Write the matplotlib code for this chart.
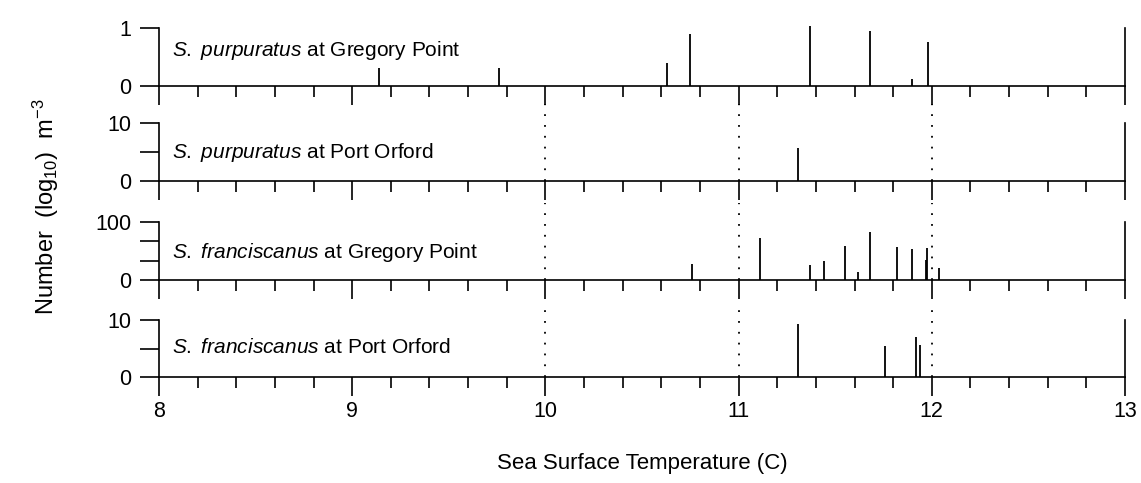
import matplotlib
matplotlib.use('Agg')
import matplotlib.pyplot as plt
import numpy as np

plt.rcParams['font.family'] = 'Liberation Sans'
plt.rcParams['mathtext.fontset'] = 'custom'
plt.rcParams['mathtext.rm'] = 'Liberation Sans'
plt.rcParams['mathtext.it'] = 'Liberation Sans:italic'

# spikes: sea surface temperature (C) and number (log10 m^-3)
gp_purp_temp = [9.14, 9.76, 10.63, 10.75, 11.37, 11.68, 11.90, 11.98]
gp_purp_num = [0.31, 0.31, 0.40, 0.89, 1.03, 0.94, 0.12, 0.75]
po_purp_temp = [11.31]
po_purp_num = [5.7]
gp_fran_temp = [10.76, 11.11, 11.37, 11.44, 11.55, 11.62, 11.68, 11.82, 11.90, 11.968, 11.975, 12.035]
gp_fran_num = [27, 72, 26, 33, 58, 14, 83, 57, 53, 34, 56, 21]
po_fran_temp = [11.31, 11.76, 11.92, 11.94]
po_fran_num = [9.3, 5.5, 7.1, 5.7]

species = ['S.\\ purpuratus', 'S.\\ purpuratus', 'S.\\ franciscanus', 'S.\\ franciscanus']
sites = ['Gregory Point', 'Port Orford', 'Gregory Point', 'Port Orford']
y_max = [1, 10, 100, 10]
y_ticks = [[0, 1], [0, 5, 10], [0, 100 / 3, 200 / 3, 100], [0, 5, 10]]
x_labels = ['8', '9', '10', '11', '12', '13']
guide_temps = [10, 11, 12]

temps = [gp_purp_temp, po_purp_temp, gp_fran_temp, po_fran_temp]
nums = [gp_purp_num, po_purp_num, gp_fran_num, po_fran_num]

W, H = 1141, 483
fig = plt.figure(figsize=(W / 100, H / 100), dpi=100)

# panel pixel extents (top, bottom)
panel_px = [(28, 86), (123, 181), (222, 280), (320, 377)]
text_y = [0.62, 0.5, 0.48, 0.52]
left_px, right_px = 159, 1125

axes = []
for i, (top, bot) in enumerate(panel_px):
    ax = fig.add_axes([left_px / W, 1 - bot / H, (right_px - left_px) / W, (bot - top) / H])
    axes.append(ax)
    ax.vlines(temps[i], 0, nums[i], color='k', lw=1.3, clip_on=False)
    ax.set_xlim(8, 13)
    ax.set_ylim(0, y_max[i])
    ax.spines['top'].set_visible(False)
    for s in ['left', 'right', 'bottom']:
        ax.spines[s].set_linewidth(1.2)
    ax.set_xticks(np.arange(8, 13.01, 1))
    ax.set_xticks(np.arange(8, 13.01, 0.2), minor=True)
    ax.tick_params(axis='x', which='major', direction='out', length=14, width=1.2,
                   labelsize=15.5, pad=3)
    ax.tick_params(axis='x', which='minor', direction='out', length=8, width=1.2)
    ax.set_yticks(y_ticks[i])
    lbls = [''] * len(y_ticks[i])
    lbls[0] = '0'
    lbls[-1] = str(y_max[i])
    ax.set_yticklabels(lbls)
    ax.tick_params(axis='y', direction='out', length=14, width=1.2, labelsize=15.5, pad=6)
    if i < 3:
        ax.tick_params(axis='x', labelbottom=False)
    else:
        ax.set_xticklabels(x_labels)
    ax.text(0.0135, text_y[i], r'$\it{' + species[i] + '}$ at ' + sites[i],
            transform=ax.transAxes, va='center', ha='left', fontsize=15)
    if i > 0:
        for xv in guide_temps:
            ax.axvline(xv, ymin=0, ymax=1.32, ls=(0, (1, 5)), lw=1.3, color='k', clip_on=False)
    ax.patch.set_alpha(0)

fig.text(642 / W, 1 - 463 / H, 'Sea Surface Temperature (C)', ha='center', va='center', fontsize=16)
fig.text(46 / W, 1 - 207 / H, r'Number  (log$_{10}$)  m$^{-3}$', rotation=90,
         ha='center', va='center', fontsize=17)

fig.savefig('out.png', dpi=100)
